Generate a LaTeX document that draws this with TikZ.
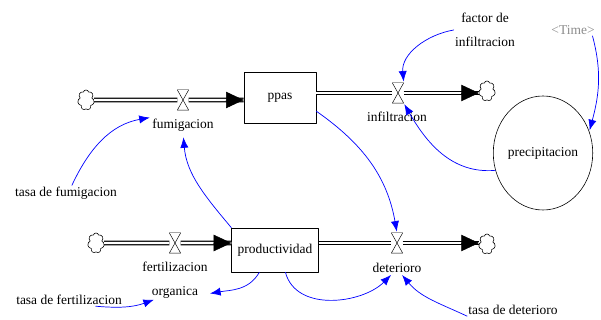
\documentclass[tikz,border=0pt]{standalone}
\usepackage{fontspec}
\setmainfont{Liberation Serif}
\usetikzlibrary{shapes.geometric, shapes.symbols, arrows.meta}
\tikzset{>=latex}
\tikzset{every text node part/.style={align=center}}
\tikzset{stock/.style={draw, line width=0.6pt, fill=white, inner sep=0pt}}
\tikzset{valvebox/.style={minimum width=0.33cm, minimum height=0.6cm, inner sep=0pt}}
\tikzset{source/.style={cloud, cloud puffs=7, draw, line width=0.5pt, fill=white, minimum width=0.5cm, minimum height=0.6cm, inner sep=0pt}}
\tikzset{pipe/.style={line width=1.1pt, double=white, double distance=2pt, line cap=butt}}
\tikzset{flowhead/.style={-{Triangle[length=15pt, width=14pt]}, line width=0.4pt}}
\tikzset{link/.style={-{Latex[length=9pt, width=7pt]}, blue, line width=0.6pt, shorten >=1pt}}
\tikzset{var/.style={inner sep=1pt}}
\newcommand{\valve}[1]{%
	\draw[line width=0.4pt, fill=white] (#1.north west) -- (#1.north east) -- (#1.south west) -- (#1.south east) -- cycle;
}

\begin{document}
\begin{tikzpicture}[x=0.03cm, y=0.03cm, line cap=round, line join=round, font=\fontsize{11.5}{20}\selectfont]
	\useasboundingbox (0,0) rectangle (601,320);
	
	% Stocks
	\node[stock, minimum width=2.16cm, minimum height=1.53cm] (ppas) at (280,222) {ppas};
	\node[stock, minimum width=2.6cm, minimum height=1.32cm] (productividad) at (275,70) {productividad};
	\node[draw, ellipse, line width=0.5pt, minimum width=2.22cm, minimum height=3.42cm, inner sep=0pt] (precip) at (543,167) {precipitacion};
	
	% Clouds and valves
	\node[source] (cl1) at (86,220) {};
	\node[source] (cr1) at (487,229) {};
	\node[source] (cl2) at (96,77) {};
	\node[source] (cr2) at (487,76) {};
	\node[valvebox] (vfum) at (183,220) {};
	\node[valvebox] (vinf) at (398,227) {};
	\node[valvebox] (vfert) at (175,77) {};
	\node[valvebox] (vdet) at (397,77) {};
	\coordinate (ppasin) at (vfum -| ppas.west);
	\coordinate (ppasout) at (vinf -| ppas.east);
	\coordinate (prodin) at (vfert -| productividad.west);
	\coordinate (prodout) at (vdet -| productividad.east);
	\coordinate (cr1in) at (vinf -| cr1.west);
	\coordinate (cr2in) at (vdet -| cr2.west);
	
	% Pipes
	\draw[pipe] (cl1.east) -- (vfum) -- (ppasin);
	\draw[flowhead] ([xshift=-15pt]ppasin) -- (ppasin);
	\draw[pipe] (ppasout) -- (vinf) -- (cr1in);
	\draw[flowhead] ([xshift=-15pt]cr1in) -- (cr1in);
	\draw[pipe] (cl2.east) -- (vfert) -- (prodin);
	\draw[flowhead] ([xshift=-15pt]prodin) -- (prodin);
	\draw[pipe] (prodout) -- (vdet) -- (cr2in);
	\draw[flowhead] ([xshift=-15pt]cr2in) -- (cr2in);
	\valve{vfum}
	\valve{vinf}
	\valve{vfert}
	\valve{vdet}
	
	% Rates and auxiliaries
	\node[var] (fumigacion) at (183,195) {fumigacion};
	\node[var] (infiltracion) at (397,203) {infiltracion};
	\node[var] (fertil) at (175,40) {fertilizacion\\organica};
	\node[var] (deterioro) at (397,52) {deterioro};
	\node[var] (tasafum) at (66,127) {tasa de fumigacion};
	\node[var] (tasafert) at (69,20) {tasa de fertilizacion};
	\node[var] (tasadet) at (513,10) {tasa de deterioro};
	\node[var] (factor) at (485,290) {factor de\\infiltracion};
	\node[var, text=black!45] (time) at (573,290) {<Time>};
	
	% Links
	\draw[link] (factor.west) to[out=190, in=95] (vinf.north east);
	\draw[link] ([xshift=-3pt]time.south east) to[out=-75, in=75] (precip.25);
	\draw[link] (precip.200) to[out=185, in=-60] (vinf.south east);
	\draw[link] ([xshift=5pt]tasafum.north) to[out=65, in=190] (fumigacion.north west);
	\draw[link, shorten >=4pt] (productividad.north west) to[out=130, in=-85] (fumigacion.south);
	\draw[link] (ppas.-20) to[out=-35, in=100] (vdet.north);
	\draw[link] (productividad.235) to[out=240, in=10] (fertil.-22);
	\draw[link] ([xshift=0.8cm]tasafert.south) to[out=-5, in=200] (fertil.224);
	\draw[link] (productividad.-65) to[out=-75, in=225] (deterioro.-130);
	\draw[link] (tasadet.south west) to[out=155, in=-50] (deterioro.-55);
\end{tikzpicture}
\end{document}
